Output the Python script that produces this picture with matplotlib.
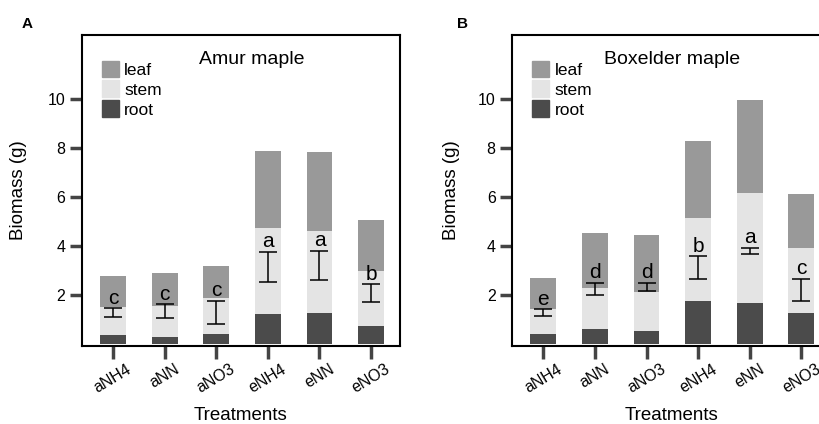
import matplotlib
matplotlib.use("Agg")
import matplotlib.pyplot as plt
from matplotlib.patches import Patch
import numpy as np

plt.rcParams['font.family'] = ['Liberation Sans', 'DejaVu Sans']

treatments = ["aNH4", "aNN", "aNO3", "eNH4", "eNN", "eNO3"]

# cumulative tops (g)
amur_root = [0.38, 0.30, 0.41, 1.25, 1.26, 0.76]
amur_stem_top = [1.50, 1.57, 1.89, 4.72, 4.62, 2.98]
amur_leaf_top = [2.78, 2.89, 3.20, 7.88, 7.83, 5.07]
amur_err_low = [1.12, 1.06, 0.83, 2.55, 2.60, 1.72]
amur_err_high = [1.46, 1.63, 1.77, 3.77, 3.81, 2.45]
amur_letters = ["c", "c", "c", "a", "a", "b"]

box_root = [0.41, 0.63, 0.54, 1.77, 1.67, 1.28]
box_stem_top = [1.45, 2.29, 2.11, 5.16, 6.16, 3.93]
box_leaf_top = [2.72, 4.54, 4.44, 8.29, 9.97, 6.11]
box_err_low = [1.15, 2.02, 2.17, 2.65, 3.66, 1.75]
box_err_high = [1.42, 2.50, 2.50, 3.58, 3.93, 2.67]
box_letters = ["e", "d", "d", "b", "a", "c"]

C_LEAF = "#999999"
C_STEM = "#e4e4e4"
C_ROOT = "#4b4b4b"

fig = plt.figure(figsize=(8.2, 4.24), dpi=100)


def panel(rect, title, title_x, root, stem_top, leaf_top, elo, ehi, letters, tag, tagx, ylabx):
    ax = fig.add_axes(rect)
    x = np.arange(len(treatments))
    root = np.array(root); stem_top = np.array(stem_top); leaf_top = np.array(leaf_top)
    w = 0.5
    ax.bar(x, root, w, color=C_ROOT, edgecolor="none", zorder=2)
    ax.bar(x, stem_top - root, w, bottom=root, color=C_STEM, edgecolor="none", zorder=2)
    ax.bar(x, leaf_top - stem_top, w, bottom=stem_top, color=C_LEAF, edgecolor="none", zorder=2)
    elo = np.array(elo); ehi = np.array(ehi)
    mid = (elo + ehi) / 2
    ax.errorbar(x, mid, yerr=(ehi - elo) / 2, fmt="none", ecolor="black",
                elinewidth=1.1, capsize=6.5, capthick=1.1, zorder=3)
    for xi, yi, l in zip(x, ehi, letters):
        ax.text(xi, yi + 0.02, l, ha="center", va="bottom", fontsize=15, zorder=4)
    ax.set_xlim(-0.6, 5.56)
    ax.set_ylim(-0.07, 12.6)
    ax.set_yticks([2, 4, 6, 8, 10])
    ax.set_xticks(x)
    ax.set_xticklabels(treatments, rotation=31, ha="center", fontsize=11.5)
    ax.tick_params(axis="both", direction="out", length=9, width=2.5, color="#444444",
                   labelsize=11.5, pad=3)
    ax.tick_params(axis="x", pad=2)
    for s in ax.spines.values():
        s.set_linewidth(1.5)
    ax.set_xlabel("Treatments", fontsize=13.5, labelpad=8)
    ax.set_ylabel("Biomass (g)", fontsize=13.5)
    ax.yaxis.set_label_coords(ylabx, 0.5)
    ax.text(title_x, 0.92, title, transform=ax.transAxes, ha="center", va="center", fontsize=14)
    handles = [Patch(color=C_LEAF, label="leaf"), Patch(color=C_STEM, label="stem"),
               Patch(color=C_ROOT, label="root")]
    ax.legend(handles=handles, loc="upper left", bbox_to_anchor=(0.04, 0.94), frameon=False,
              fontsize=12.5, handlelength=1.0, handleheight=1.1, labelspacing=0.15,
              handletextpad=0.3, borderaxespad=0)
    fig.text(tagx, 1 - 24 / 424, tag, fontsize=11, fontweight="bold", ha="center", va="center")
    return ax


panel([82 / 820, 78 / 424, 318 / 820, 311 / 424], "Amur maple", 0.533,
      amur_root, amur_stem_top, amur_leaf_top, amur_err_low, amur_err_high, amur_letters,
      "A", 27 / 820, -0.173)
panel([512.3 / 820, 78 / 424, 318 / 820, 311 / 424], "Boxelder maple", 0.502,
      box_root, box_stem_top, box_leaf_top, box_err_low, box_err_high, box_letters,
      "B", 463 / 820, -0.164)

fig.savefig("out.png", dpi=100)
